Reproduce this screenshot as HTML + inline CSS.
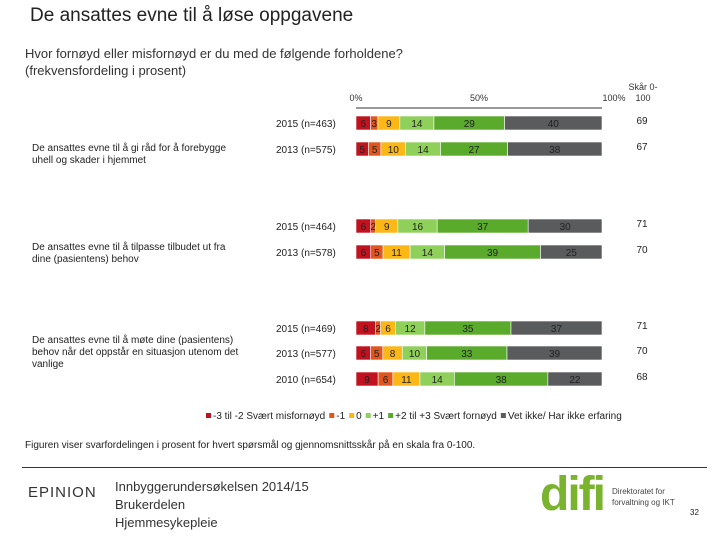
<!DOCTYPE html>
<html><head><meta charset="utf-8"><style>
body{margin:0;width:720px;height:540px;background:#fff;font-family:"Liberation Sans",sans-serif;position:relative;overflow:hidden;color:#222}
.a{position:absolute;white-space:nowrap}
</style></head><body>
<div class="a" style="left:30px;top:5px;font-size:19px">De ansattes evne til å løse oppgavene</div>
<div class="a" style="left:25px;top:45px;font-size:13px;line-height:17px;color:#333">Hvor fornøyd eller misfornøyd er du med de følgende forholdene?<br>(frekvensfordeling i prosent)</div>
<div class="a" style="left:32px;top:143px;font-size:10px;line-height:12px">De ansattes evne til å gi råd for å forebygge<br>uhell og skader i hjemmet</div>
<div class="a" style="left:32px;top:242px;font-size:10px;line-height:12px">De ansattes evne til å tilpasse tilbudet ut fra<br>dine (pasientens) behov</div>
<div class="a" style="left:32px;top:335px;font-size:10px;line-height:12px">De ansattes evne til å møte dine (pasientens)<br>behov når det oppstår en situasjon utenom det<br>vanlige</div>
<svg id="c" width="720" height="540" style="position:absolute;left:0;top:0"></svg>
<div class="a" style="left:25px;top:440px;font-size:10px">Figuren viser svarfordelingen i prosent for hvert spørsmål og gjennomsnittsskår på en skala fra 0-100.</div>
<div class="a" style="left:22px;top:467px;width:685px;height:1px;background:#333"></div>
<div class="a" style="left:28px;top:484px;font-size:15px;letter-spacing:1px;color:#333">EPINION</div>
<div class="a" style="left:115px;top:478px;font-size:13px;line-height:18px;color:#333">Innbyggerundersøkelsen 2014/15<br>Brukerdelen<br>Hjemmesykepleie</div>
<div class="a" style="left:540px;top:470px;font-size:48px;font-weight:bold;color:#7ab32e;letter-spacing:-2px;line-height:50px">difi</div>
<div class="a" style="left:612px;top:486px;font-size:8px;line-height:11px;color:#444">Direktoratet for<br>forvaltning og IKT</div>
<div class="a" style="left:690px;top:508px;font-size:8px">32</div>
<script>
const rowLabels=["2015 (n=463)","2013 (n=575)","2015 (n=464)","2013 (n=578)","2015 (n=469)","2013 (n=577)","2010 (n=654)"];
const veryDis=[6,5,6,6,8,6,9];
const minus1=[3,5,2,5,2,5,6];
const zero=[9,10,9,11,6,8,11];
const plus1=[14,14,16,14,12,10,14];
const plus23=[29,27,37,39,35,33,38];
const dontKnow=[40,38,30,25,37,39,22];
const scores=[69,67,71,70,71,70,68];
const rowY=[123,149,226,252,328,353,379];
const series=[veryDis,minus1,zero,plus1,plus23,dontKnow];
const colors=["#c0121f","#e0561b","#fbb715","#8fd05a","#5aab2b","#5a5b5d"];
const names=["very-dissatisfied","minus-1","neutral","plus-1","plus-2-3","dont-know"];
const X0=356,X1=602;
const x=v=>X0+(X1-X0)*v/100;
const svg=document.getElementById('c');const NS="http://www.w3.org/2000/svg";
function mk(t,a,txt){const e=document.createElementNS(NS,t);for(const k in a)e.setAttribute(k,a[k]);if(txt!=null)e.textContent=txt;svg.appendChild(e);return e;}
let e=mk('line',{x1:X0,x2:X1,y1:108,y2:108,stroke:'#999','stroke-width':2});


[[0,"0%"],[50,"50%"],[100,"100%"]].forEach(([v,t])=>{const el=mk('text',{x:x(v)+(v==100?12:0),y:101,'font-size':9,'text-anchor':'middle',fill:'#333'},t);

});
e=mk('text',{x:643,y:90,'font-size':9,'text-anchor':'middle',fill:'#333'},"Skår 0-");


e=mk('text',{x:643,y:101,'font-size':9,'text-anchor':'middle',fill:'#333'},"100");


rowLabels.forEach((lab,i)=>{
 const y=rowY[i];
 let t=mk('text',{x:276,y:y+4,'font-size':10,fill:'#222'},lab);
 
 
 let tot=0;series.forEach(s=>tot+=s[i]);
 let acc=0;
 series.forEach((s,j)=>{const v=s[i];
  const a0=acc*100/tot,a1=(acc+v)*100/tot;
  const r=mk('rect',{x:x(a0),y:y-7,width:x(a1)-x(a0),height:14,fill:colors[j],stroke:'#fff','stroke-width':0.6});
  
  
  const tx=mk('text',{x:(x(a0)+x(a1))/2,y:y+4,'font-size':10,'text-anchor':'middle',fill:'#222'},v);
  
  
  acc+=v;});
 t=mk('text',{x:642,y:y+1,'font-size':10,'text-anchor':'middle',fill:'#222'},scores[i]);
 
 
});
const legend=["-3 til -2 Svært misfornøyd","-1","0","+1","+2 til +3 Svært fornøyd","Vet ikke/ Har ikke erfaring"];
let lx=206;
legend.forEach((l,j)=>{const r=mk('rect',{x:lx,y:413,width:5,height:5,fill:colors[j]});
 
 
 const t=mk('text',{x:lx+7,y:419,'font-size':10,fill:'#222'},l);
 
 
 lx+=7+t.getComputedTextLength()+4;});
</script>
</body></html>
